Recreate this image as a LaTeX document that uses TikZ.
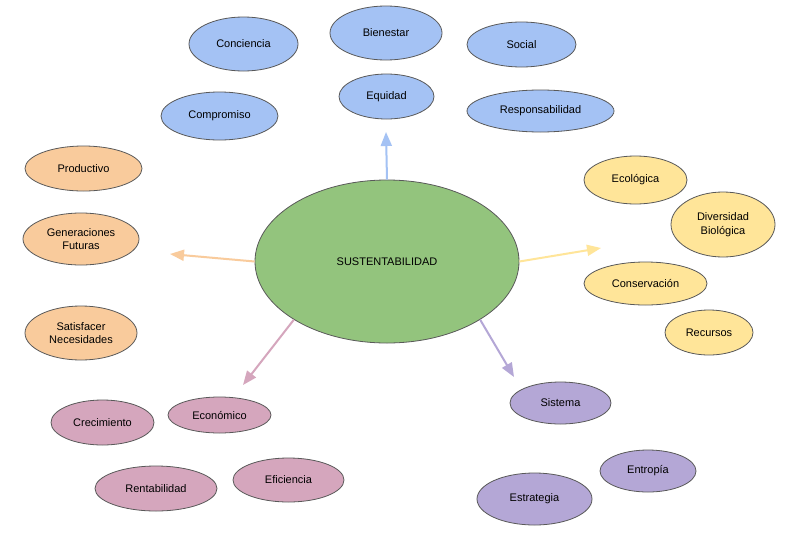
\documentclass[tikz,border=0pt]{standalone}
\usepackage{fontspec}
\setmainfont{Liberation Sans}
\usetikzlibrary{shapes.geometric,arrows.meta}
\definecolor{blueF}{HTML}{A4C2F4}
\definecolor{orangeF}{HTML}{F9CB9C}
\definecolor{yellowF}{HTML}{FFE599}
\definecolor{pinkF}{HTML}{D5A6BD}
\definecolor{purpleF}{HTML}{B4A7D6}
\definecolor{greenF}{HTML}{93C47D}
\definecolor{bord}{HTML}{595959}
\tikzset{
  bub/.style={ellipse, draw=bord, line width=0.8pt, inner sep=0pt, align=center,
    font=\fontsize{11}{13.5}\selectfont, text=black},
  conn/.style={line width=2pt, -{Triangle[length=14pt,width=11pt]}},
}
\begin{document}
\begin{tikzpicture}[x=1pt,y=-1pt]
\useasboundingbox (0,0) rectangle (802,538);
\fill[white] (0,0) rectangle (802,538);
% centre
\node[bub, fill=greenF, minimum width=264pt, minimum height=163pt] (c) at (387,261.5) {SUSTENTABILIDAD};
% blue
\node[bub, fill=blueF, minimum width=112pt, minimum height=54pt] (bien) at (386,33) {Bienestar};
\node[bub, fill=blueF, minimum width=109pt, minimum height=54pt] (conc) at (243.5,44) {Conciencia};
\node[bub, fill=blueF, minimum width=109pt, minimum height=45pt] (soc) at (521.5,44.5) {Social};
\node[bub, fill=blueF, minimum width=95pt, minimum height=45pt] (equi) at (386.5,96.5) {Equidad};
\node[bub, fill=blueF, minimum width=117pt, minimum height=48pt] (comp) at (219.5,116) {Compromiso};
\node[bub, fill=blueF, minimum width=147pt, minimum height=42pt] (resp) at (540.5,111) {Responsabilidad};
% orange
\node[bub, fill=orangeF, minimum width=117pt, minimum height=45pt] (prod) at (83.5,168.5) {Productivo};
\node[bub, fill=orangeF, minimum width=116pt, minimum height=52pt] (gen) at (81,239) {Generaciones\\Futuras};
\node[bub, fill=orangeF, minimum width=112pt, minimum height=54pt] (sat) at (81,333) {Satisfacer\\Necesidades};
% yellow
\node[bub, fill=yellowF, minimum width=103pt, minimum height=48pt] (eco) at (635.5,180) {Ecológica};
\node[bub, fill=yellowF, minimum width=104pt, minimum height=65pt] (div) at (723,224.5) {Diversidad\\Biológica};
\node[bub, fill=yellowF, minimum width=123pt, minimum height=43pt] (cons) at (645.5,283.5) {Conservación};
\node[bub, fill=yellowF, minimum width=88pt, minimum height=45pt] (rec) at (709,332.5) {Recursos};
% pink
\node[bub, fill=pinkF, minimum width=103pt, minimum height=45pt] (crec) at (102.5,422.5) {Crecimiento};
\node[bub, fill=pinkF, minimum width=103pt, minimum height=36pt] (econ) at (219.5,415) {Económico};
\node[bub, fill=pinkF, minimum width=122pt, minimum height=45pt] (rent) at (156,488.5) {Rentabilidad};
\node[bub, fill=pinkF, minimum width=111pt, minimum height=44pt] (efi) at (288.5,480) {Eficiencia};
% purple
\node[bub, fill=purpleF, minimum width=101pt, minimum height=42pt] (sis) at (560.5,403) {Sistema};
\node[bub, fill=purpleF, minimum width=96pt, minimum height=42pt] (ent) at (648,471) {Entropía};
\node[bub, fill=purpleF, minimum width=115pt, minimum height=52pt] (estr) at (534.5,499) {Estrategia};
% arrow tips
\coordinate (tB) at (386,132);
\coordinate (tO) at (170,254);
\coordinate (tY) at (601,248);
\coordinate (tP) at (243,385);
\coordinate (tU) at (514,377);
\draw[conn, blueF] (c.north) -- (tB);
\draw[conn, orangeF] (c.west) -- (tO);
\draw[conn, yellowF] (c.east) -- (tY);
\draw[conn, pinkF] (c.212) -- (tP);
\draw[conn, purpleF] (c.328) -- (tU);
\end{tikzpicture}
\end{document}
